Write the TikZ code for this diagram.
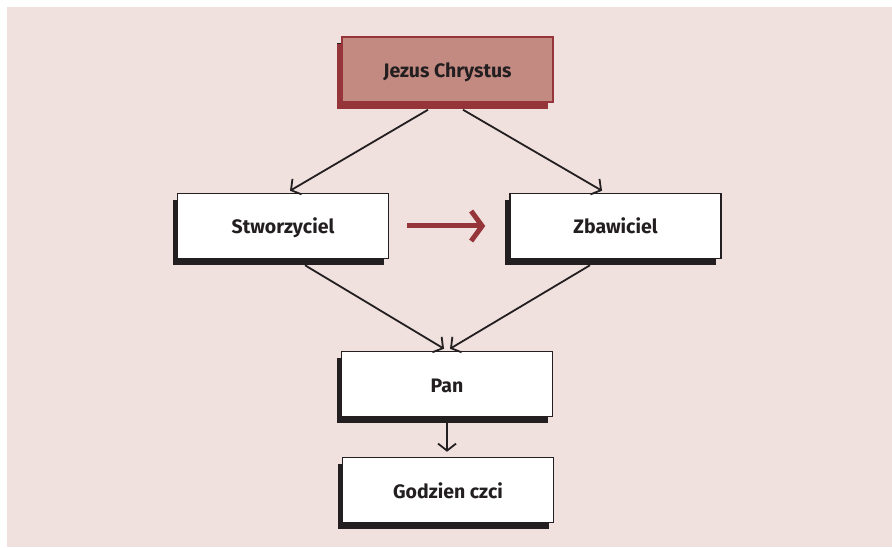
\documentclass[tikz,border=0pt]{standalone}
\usepackage{fontspec}
\setmainfont{Fira Sans}
\usetikzlibrary{shadows,arrows.meta,calc}
\definecolor{bgpink}{HTML}{F0E1DE}
\definecolor{hdrfill}{HTML}{C38A82}
\definecolor{hdrdark}{HTML}{963539}
\definecolor{ink}{HTML}{231F20}
\tikzset{
  box/.style={draw=ink, line width=1.5pt, fill=white, minimum width=211pt, minimum height=65pt,
    inner sep=0pt, text height=16pt, text depth=0pt,
    font=\fontsize{19.5}{22}\selectfont\bfseries, text=ink,
    general shadow={fill=ink, shadow xshift=-5pt, shadow yshift=-6.5pt}},
  hdrbox/.style={box, draw=hdrdark, fill=hdrfill,
    general shadow={fill=hdrdark, shadow xshift=-5pt, shadow yshift=-7pt}},
  conn/.style={draw=ink, line width=1.8pt, -{Straight Barb[length=7pt,width=18pt,line width=1.8pt]}},
  bigarrow/.style={draw=hdrdark, line width=5pt, -{Straight Barb[length=11pt,width=30pt,line width=5pt]}}
}
\begin{document}
\begin{tikzpicture}[x=1pt,y=-1pt]
  \path[use as bounding box, fill=white] (0,0) rectangle (892,548);
  \fill[bgpink] (7,7) rectangle (892,547);
  \node[hdrbox] (jc) at (447.5,69.5) {Jezus Chrystus};
  \node[box] (stw) at (283,226) {Stworzyciel};
  \node[box] (zb) at (615.5,226) {Zbawiciel};
  \node[box] (pan) at (447,384) {Pan};
  \node[box] (god) at (448,490) {Godzien czci};
  \draw[conn] ($(jc.south)+(-19.5,7)$) -- ($(stw.north)+(7,-2)$);
  \draw[conn] ($(jc.south)+(15.5,7)$) -- ($(zb.north)+(-13.5,-2)$);
  \draw[conn] ($(stw.south)+(22,6)$) -- ($(pan.north)+(-3,-2)$);
  \draw[conn] ($(zb.south)+(-25.5,6)$) -- ($(pan.north)+(3,-2)$);
  \draw[conn] ($(pan.south)+(0,6)$) -- ($(god.north)+(-1,-5)$);
  \draw[bigarrow] ($(stw.east)+(18,0)$) -- ($(zb.west)+(-24,0)$);
\end{tikzpicture}
\end{document}
